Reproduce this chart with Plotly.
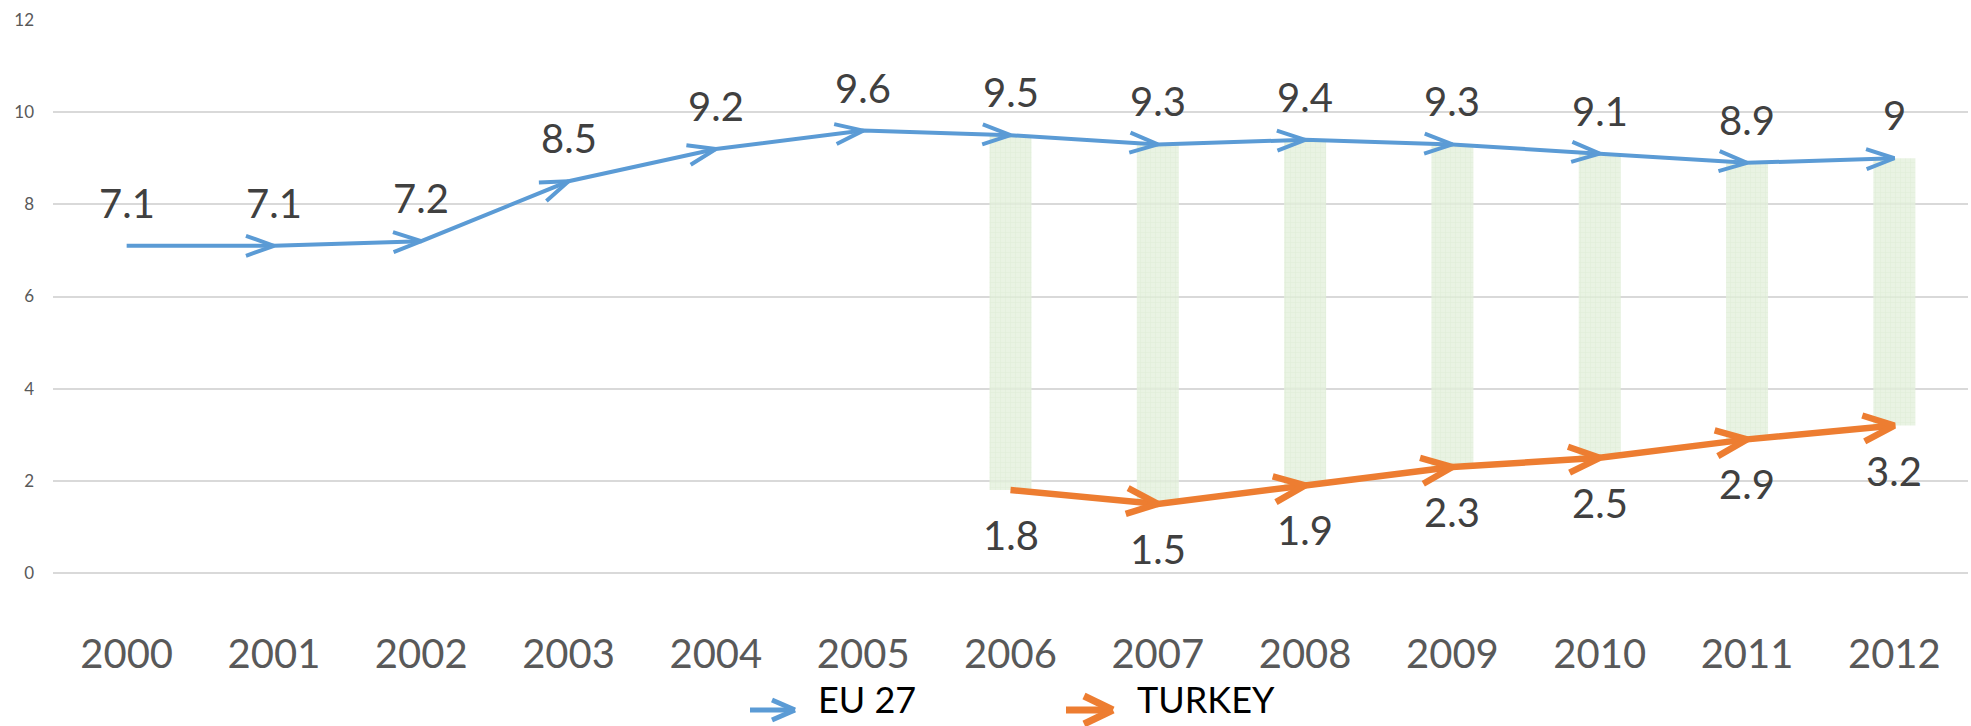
import math
import plotly.graph_objects as go

years = ["2000", "2001", "2002", "2003", "2004", "2005", "2006",
         "2007", "2008", "2009", "2010", "2011", "2012"]
eu27 = [7.1, 7.1, 7.2, 8.5, 9.2, 9.6, 9.5, 9.3, 9.4, 9.3, 9.1, 8.9, 9.0]
turkey = [None, None, None, None, None, None, 1.8, 1.5, 1.9, 2.3, 2.5, 2.9, 3.2]
eu_labels = ["7.1", "7.1", "7.2", "8.5", "9.2", "9.6", "9.5", "9.3", "9.4", "9.3", "9.1", "8.9", "9"]
tr_labels = [None, None, None, None, None, None, "1.8", "1.5", "1.9", "2.3", "2.5", "2.9", "3.2"]
y_ticks = [0, 2, 4, 6, 8, 10, 12]

EU_COLOR = "#5B9BD5"
TR_COLOR = "#ED7D31"
FONT = "Lato"

W, H = 1971, 726
ML, MR, MT, MB = 53, 3, 20, 153
XR = [-0.5, len(years) - 0.5]
YR = [0, 12]
sx = (W - ML - MR) / (XR[1] - XR[0])   # px per category
sy = (H - MT - MB) / (YR[1] - YR[0])   # px per unit

xs = list(range(len(years)))


def arrowheads(xv, yv, L, Wd):
    ax, ay = [], []
    prev = None
    for x, y in zip(xv, yv):
        if y is None:
            prev = None
            continue
        if prev is not None:
            px, py = prev
            dx = (x - px) * sx
            dy = (y - py) * sy
            n = math.hypot(dx, dy)
            ux, uy = dx / n, dy / n
            vx, vy = -uy, ux
            b1x = x - (L * ux + Wd * vx) / sx
            b1y = y - (L * uy + Wd * vy) / sy
            b2x = x - (L * ux - Wd * vx) / sx
            b2y = y - (L * uy - Wd * vy) / sy
            ax += [b1x, x, b2x, None]
            ay += [b1y, y, b2y, None]
        prev = (x, y)
    return ax, ay


fig = go.Figure()

fig.add_trace(go.Scatter(x=xs, y=eu27, mode="lines", line=dict(color=EU_COLOR, width=4),
                         showlegend=False, hoverinfo="skip"))
eax, eay = arrowheads(xs, eu27, 28, 10)
fig.add_trace(go.Scatter(x=eax, y=eay, mode="lines", line=dict(color=EU_COLOR, width=4),
                         showlegend=False, hoverinfo="skip"))

fig.add_trace(go.Scatter(x=xs, y=turkey, mode="lines", line=dict(color=TR_COLOR, width=6.5),
                         showlegend=False, hoverinfo="skip"))
tax, tay = arrowheads(xs, turkey, 31, 13)
fig.add_trace(go.Scatter(x=tax, y=tay, mode="lines", line=dict(color=TR_COLOR, width=6.5),
                         showlegend=False, hoverinfo="skip"))

# up/down bars between the two series
bx, bbase, bh = [], [], []
for x, e, t in zip(xs, eu27, turkey):
    if t is not None:
        bx.append(x)
        bbase.append(t)
        bh.append(e - t)
fig.add_trace(go.Bar(x=bx, y=bh, base=bbase, width=42 / sx,
                     marker=dict(color="rgba(224,238,215,0.8)",
                                 line=dict(width=0),
                                 pattern=dict(shape="+", fgcolor="rgba(205,228,195,0.6)",
                                              bgcolor="rgba(228,240,220,0.8)",
                                              size=5, solidity=0.25)),
                     showlegend=False, hoverinfo="skip"))

# data labels
for x, y, t in zip(xs, eu27, eu_labels):
    fig.add_annotation(x=x, y=y, text=t, showarrow=False, yshift=43, yanchor="middle",
                       font=dict(family=FONT, size=40, color="#404040"))
for x, y, t in zip(xs, turkey, tr_labels):
    if t is None:
        continue
    fig.add_annotation(x=x, y=y, text=t, showarrow=False, yshift=-45, yanchor="middle",
                       font=dict(family=FONT, size=40, color="#404040"))

# legend (manual)
PW, PH = W - ML - MR, H - MT - MB
legend_items = [("EU 27", EU_COLOR, 5, 750, 795, 23, 10, 816),
                ("TURKEY", TR_COLOR, 7, 1066, 1113, 29, 14, 1135)]
ly = 710
for name, col, lw, x0, x1, L, Wd, tx in legend_items:
    fig.add_shape(type="line", xref="paper", yref="paper",
                  x0=(x0 - ML) / PW, x1=(x1 - ML) / PW,
                  y0=(H - MB - ly) / PH, y1=(H - MB - ly) / PH,
                  line=dict(color=col, width=lw))
    for s in (1, -1):
        fig.add_shape(type="line", xref="paper", yref="paper",
                      x0=(x1 - L - ML) / PW, x1=(x1 - ML) / PW,
                      y0=(H - MB - ly + s * Wd) / PH, y1=(H - MB - ly) / PH,
                      line=dict(color=col, width=lw))
    fig.add_annotation(xref="paper", yref="paper",
                       x=(tx - ML) / PW, y=(H - MB - 699) / PH,
                       text=name, showarrow=False, xanchor="left", yanchor="middle",
                       font=dict(family=FONT, size=36, color="#000000"))

fig.update_layout(
    width=W, height=H,
    margin=dict(l=ML, r=MR, t=MT, b=MB, pad=0),
    paper_bgcolor="white", plot_bgcolor="white",
    showlegend=False,
    barmode="overlay",
    font=dict(family=FONT),
)
fig.update_xaxes(range=XR, tickmode="array", tickvals=xs, ticktext=years,
                 showgrid=False, zeroline=False, showline=False, ticks="",
                 tickfont=dict(family=FONT, size=40, color="#595959"),
                 ticklabelstandoff=54)
fig.update_yaxes(range=YR, tickmode="array", tickvals=y_ticks,
                 showgrid=True, gridcolor="#D9D9D9", gridwidth=1.5,
                 zeroline=True, zerolinecolor="#D9D9D9", zerolinewidth=1.5,
                 showline=False, ticks="",
                 tickfont=dict(family=FONT, size=17, color="#595959"),
                 ticklabelstandoff=18)

fig.write_html("out.html", config={"displayModeBar": False},
               post_script="document.body.style.margin='0';document.body.style.overflow='hidden';")
